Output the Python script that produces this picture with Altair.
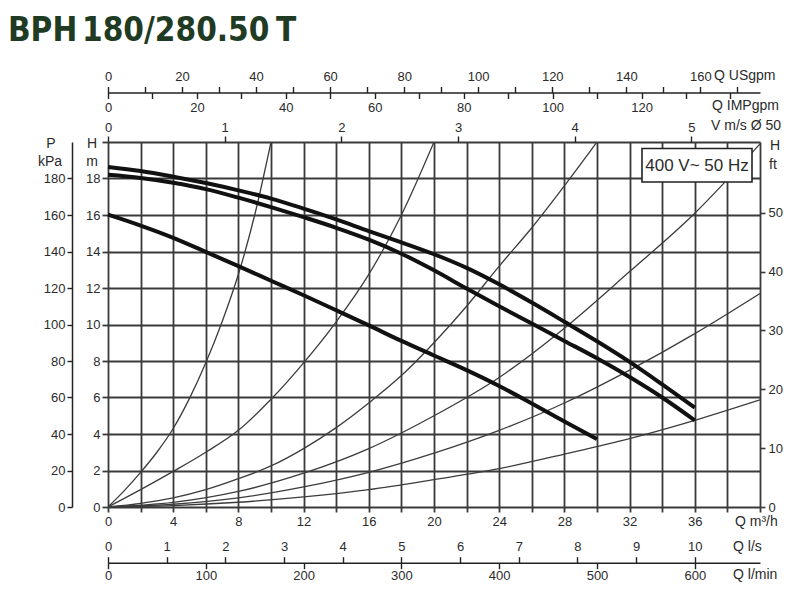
import altair as alt
import pandas as pd

TITLE_PARTS = ["BPH", "180/280.50", "T"]
BOX_TEXT = "400 V~ 50 Hz"

# ---- pump curves (Q m3/h -> H m) ----
pump_a_q = [0, 2, 4, 6, 8, 10, 12, 14, 16, 18, 20, 22, 24, 26, 28, 30, 32, 34, 36]
pump_a_h = [18.63, 18.41, 18.1, 17.75, 17.35, 16.9, 16.35, 15.76, 15.12, 14.5, 13.85, 13.1, 12.2, 11.2, 10.15, 9.08, 7.95, 6.72, 5.45]
pump_b_q = [0, 2, 4, 6, 8, 10, 12, 14, 16, 18, 20, 22, 24, 26, 28, 30, 32, 34, 36]
pump_b_h = [18.2, 18.03, 17.77, 17.42, 16.95, 16.43, 15.88, 15.3, 14.65, 13.88, 12.97, 11.97, 11.0, 10.05, 9.1, 8.15, 7.12, 6.0, 4.75]
pump_c_q = [0, 2, 4, 6, 8, 10, 12, 14, 16, 18, 20, 22, 24, 26, 28, 30]
pump_c_h = [16.02, 15.42, 14.75, 13.98, 13.2, 12.4, 11.6, 10.78, 9.95, 9.1, 8.3, 7.5, 6.63, 5.67, 4.68, 3.72]

# ---- system curves (thin) ----
sys1_q = [0, 1, 2, 3, 4, 5, 6, 7, 8, 9, 10]
sys1_h = [0, 0.9, 1.9, 3.0, 4.3, 5.95, 7.9, 10.15, 12.75, 16.0, 20.0]
sys2_q = [0, 2, 4, 6, 8, 10, 12, 14, 16, 18, 20]
sys2_h = [0, 0.95, 1.95, 3.0, 4.2, 5.9, 7.9, 10.15, 12.75, 16.0, 20.0]
sys3_q = [0, 2, 4, 6, 8, 10, 12, 14, 16, 18, 20, 22, 24, 26, 28, 30]
sys3_h = [0, 0.2, 0.5, 0.95, 1.55, 2.25, 3.2, 4.35, 5.7, 7.2, 9.0, 11.0, 13.2, 15.3, 17.6, 20.0]
sys4_q = [0, 4, 8, 12, 16, 20, 24, 28, 32, 36, 40]
sys4_h = [0, 0.25, 0.85, 1.85, 3.2, 5.0, 7.1, 9.8, 12.9, 16.1, 19.9]
sys5_q = [0, 4, 8, 12, 16, 20, 24, 28, 32, 36, 40]
sys5_h = [0, 0.15, 0.5, 1.1, 1.9, 2.95, 4.2, 5.7, 7.5, 9.5, 11.7]
sys6_q = [0, 4, 8, 12, 16, 20, 24, 28, 32, 36, 40]
sys6_h = [0, 0.08, 0.26, 0.55, 0.95, 1.5, 2.1, 2.9, 3.75, 4.75, 5.87]

# ---- axes ----
Q_MAX = 40          # m3/h
H_MAX = 20          # m
q_grid = list(range(0, 41, 2))
h_grid = list(range(0, 21, 2))
usgpm_ticks = list(range(0, 171, 10))
impgpm_ticks = list(range(0, 141, 10))
vel_ticks = [0, 1, 2, 3, 4, 5]
ls_ticks = list(range(0, 11))
lmin_ticks = list(range(0, 601, 100))
kpa_ticks = list(range(0, 181, 20))
ft_ticks = list(range(0, 51, 10))

USGPM_MAX = Q_MAX * 4.403
IMPGPM_MAX = Q_MAX * 3.666
VEL_MAX = Q_MAX * 0.1397
LS_MAX = Q_MAX / 3.6
LMIN_MAX = Q_MAX * 16.667
KPA_MAX = 200
FT_MAX = 62

FONT = "Liberation Sans"
TITLE_FONT = "DejaVu Sans Condensed, Liberation Sans Narrow, Liberation Sans"
LBL = "#2b2b2b"
GRID = "#3a3a3a"
W, H = 652, 365

rows = []
for name, qs, hs in [("A", pump_a_q, pump_a_h), ("B", pump_b_q, pump_b_h), ("C", pump_c_q, pump_c_h)]:
    for q, h in zip(qs, hs):
        rows.append({"curve": name, "q": q, "h": h})
pump_df = pd.DataFrame(rows)

rows = []
for name, qs, hs in [("s1", sys1_q, sys1_h), ("s2", sys2_q, sys2_h), ("s3", sys3_q, sys3_h),
                     ("s4", sys4_q, sys4_h), ("s5", sys5_q, sys5_h), ("s6", sys6_q, sys6_h)]:
    for q, h in zip(qs, hs):
        rows.append({"curve": name, "q": q, "h": h})
sys_df = pd.DataFrame(rows)

def ax(**kw):
    base = dict(title=None, grid=False, labelFont=FONT, labelFontSize=13, labelColor=LBL,
                tickColor="#222", tickWidth=1.4, domainColor="#222", domainWidth=1.5,
                labelFlush=False, labelOverlap=False)
    base.update(kw)
    return alt.Axis(**base)

x_main_axis = ax(values=q_grid, grid=True, gridColor=GRID, gridWidth=1.8, domain=False,
                 tickSize=5, tickColor=GRID, tickWidth=1.8, labelPadding=3,
                 labelExpr="datum.value % 4 == 0 && datum.value < 40 ? datum.label : ''")
y_main_axis = ax(values=h_grid, grid=True, gridColor=GRID, gridWidth=1.8, domain=False,
                 tickSize=6, tickColor=GRID, tickWidth=1.8, labelPadding=2,
                 labelExpr="datum.value < 20 ? datum.label : ''")

xq = alt.X("q:Q", scale=alt.Scale(domain=[0, Q_MAX], nice=False, zero=False), axis=x_main_axis)
yh = alt.Y("h:Q", scale=alt.Scale(domain=[0, H_MAX], nice=False, zero=False), axis=y_main_axis)

thin = alt.Chart(sys_df).mark_line(color="#3c3c3c", strokeWidth=1.3, interpolate="monotone", clip=True).encode(
    x=xq, y=yh, detail="curve:N")
thick = alt.Chart(pump_df).mark_line(color="#111111", strokeWidth=4, interpolate="monotone").encode(
    x=xq, y=yh, detail="curve:N")
main = alt.layer(thin, thick)

def xhost(vals, field, dmax, axis):
    return alt.Chart(pd.DataFrame({field: vals})).mark_point(opacity=0).encode(
        x=alt.X(f"{field}:Q", scale=alt.Scale(domain=[0, dmax], nice=False, zero=False), axis=axis),
        y=alt.value(0))

def yhost(vals, field, dmax, axis):
    return alt.Chart(pd.DataFrame({field: vals})).mark_point(opacity=0).encode(
        y=alt.Y(f"{field}:Q", scale=alt.Scale(domain=[0, dmax], nice=False, zero=False), axis=axis),
        x=alt.value(0))

usg = xhost(usgpm_ticks, "usgpm", USGPM_MAX,
            ax(orient="top", offset=49.5, values=usgpm_ticks, domain=True, tickSize=6, labelPadding=3,
               labelExpr="datum.value % 20 == 0 ? datum.label : ''"))
imp = xhost(impgpm_ticks, "impgpm", IMPGPM_MAX,
            ax(orient="bottom", offset=-(H + 49.5), values=impgpm_ticks, domain=False, tickSize=6, labelPadding=3,
               labelExpr="datum.value % 20 == 0 && datum.value <= 120 ? datum.label : ''"))
vel = xhost(vel_ticks, "vel", VEL_MAX,
            ax(orient="top", offset=0, values=vel_ticks, domain=False, tickSize=6, labelPadding=2))
ls = xhost(ls_ticks, "ls", LS_MAX,
           ax(orient="top", offset=-420.7, values=ls_ticks, domain=True, tickSize=6, labelPadding=3))
lmin = xhost(lmin_ticks, "lmin", LMIN_MAX,
             ax(orient="bottom", offset=420.7 - H, values=lmin_ticks, domain=False, tickSize=6, labelPadding=1))
kpa = yhost(kpa_ticks, "kpa", KPA_MAX,
            ax(orient="left", offset=36, values=kpa_ticks, domain=True, tickSize=5, labelPadding=2))
ft = yhost(ft_ticks, "ft", FT_MAX,
           ax(orient="right", offset=0, values=ft_ticks, domain=False, tickSize=5, tickColor=GRID,
              tickWidth=1.6, labelPadding=3))

one = pd.DataFrame({"a": [0]})

def label(text, x, y, size=14, align="left", **kw):
    return alt.Chart(one).mark_text(text=text, font=FONT, fontSize=size, color=LBL, align=align,
                                    baseline="middle", **kw).encode(x=alt.value(x), y=alt.value(y))

texts = [
    label("Q USgpm", 606, -66),
    label("Q IMPgpm", 604, -36),
    label("V m/s Ø 50", 603, -16),
    label("Q m³/h", 627, 380),
    label("Q l/s", 625, 405),
    label("Q l/min", 625, 433),
    label("P", -57, 2, align="center"),
    label("kPa", -58, 20, align="center"),
    label("H", -16, 2, align="center"),
    label("m", -16, 20, align="center"),
    label("H", 667, 4, align="center"),
    label("ft", 665, 23, align="center"),
]

def title_part(text, x):
    return alt.Chart(one).mark_text(text=text, font=TITLE_FONT, fontWeight="bold", fontSize=33,
                                    color="#1f3b24", align="left", baseline="middle").encode(
        x=alt.value(x), y=alt.value(-111))

titles = [title_part(TITLE_PARTS[0], -100), title_part(TITLE_PARTS[1], -26), title_part(TITLE_PARTS[2], 168)]

box = alt.Chart(one).mark_rect(fill="white", stroke="#222", strokeWidth=1.6).encode(
    x=alt.value(534), x2=alt.value(644), y=alt.value(6.5), y2=alt.value(40))
box_text = label(BOX_TEXT, 589, 24, size=17, align="center")

chart = alt.layer(main, usg, imp, vel, ls, lmin, kpa, ft, box, box_text, *titles, *texts).resolve_scale(
    x="independent", y="independent"
).properties(
    width=W, height=H,
    autosize=alt.AutoSizeParams(type="none"),
    padding={"left": 100, "top": 134, "right": 30, "bottom": 77},
    background="white",
).configure_view(stroke=None)

chart.save("out.html", embed_options={"renderer": "svg", "actions": False})
